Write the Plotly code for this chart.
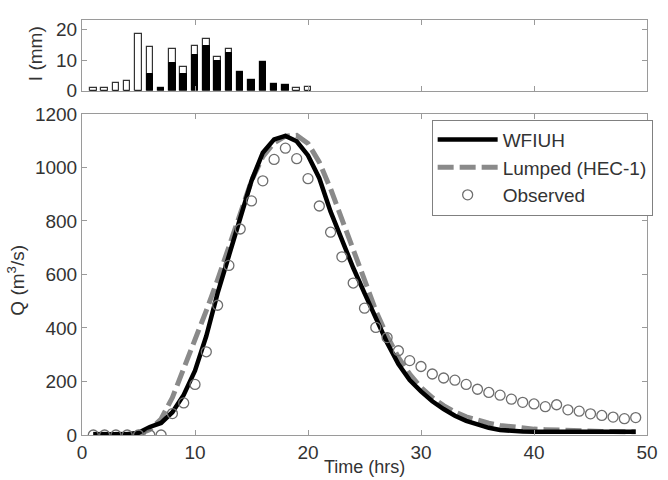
import plotly.graph_objects as go

# ---------------- data ----------------
rain_t = [1, 2, 3, 4, 5, 6, 7, 8, 9, 10, 11, 12, 13, 14, 15, 16, 17, 18, 19, 20]
rain_total = [0.8, 0.8, 2.6, 3.2, 18.6, 14.3, 0.8, 13.8, 7.7, 14.8,
              17.0, 10.9, 13.8, 6.1, 3.5, 9.5, 2.1, 1.7, 0.8, 1.2]
rain_excess = [0, 0, 0, 0, 0, 5.6, 0.8, 9.0, 5.6, 11.7,
               14.8, 9.7, 12.5, 6.1, 3.5, 9.5, 2.1, 1.7, 0, 0]

time_hrs = [1, 2, 3, 4, 5, 6, 7, 8, 9, 10, 11, 12, 13, 14, 15, 16, 17, 18, 19, 20,
            21, 22, 23, 24, 25, 26, 27, 28, 29, 30, 31, 32, 33, 34, 35, 36, 37, 38, 39, 40,
            41, 42, 43, 44, 45, 46, 47, 48, 49]

q_wfiuh = [3, 3, 3, 3, 8, 30, 45, 85, 150, 240, 370, 530, 670, 810, 950, 1055, 1105, 1118, 1098, 1045,
           960, 835, 725, 625, 530, 440, 345, 265, 205, 163, 126, 97, 72, 53, 38, 27, 19, 15, 13, 12,
           12, 12, 12, 12, 12, 12, 12, 12, 12]

q_lumped = [3, 3, 3, 3, 3, 20, 60, 140, 245, 355, 465, 580, 700, 830, 950, 1040, 1092, 1117, 1120, 1090,
            1020, 920, 810, 695, 580, 465, 370, 290, 228, 178, 140, 110, 86, 68, 54, 44, 36, 30, 26, 22,
            20, 18, 16, 15, 14, 13, 13, 12, 12]

q_obs = [0, 0, 0, 0, 0, 0, 0, 80, 120, 189, 311, 485, 634, 770, 875, 950, 1030, 1072, 1033, 958,
         856, 758, 666, 568, 474, 402, 364, 315, 278, 256, 228, 213, 205, 189, 171, 159, 149, 134, 122, 116,
         106, 113, 94, 89, 79, 73, 67, 61, 65]

x_ticks = [0, 10, 20, 30, 40, 50]
q_ticks = [0, 200, 400, 600, 800, 1000, 1200]
i_ticks = [0, 10, 20]

# ---------------- figure ----------------
FONT = dict(family="Liberation Sans, Arial, sans-serif", size=19, color="#333333")
AX = dict(showline=True, linecolor="#9a9a9a", linewidth=1, mirror="ticks",
          ticks="inside", ticklen=5, tickcolor="#9a9a9a", tickwidth=1,
          showgrid=False, zeroline=False, tickfont=FONT)

fig = go.Figure()

# rainfall bars (top panel)
fig.add_trace(go.Bar(x=rain_t, y=rain_total, width=0.58, xaxis="x2", yaxis="y2",
                     marker=dict(color="white", line=dict(color="#333333", width=1.2)),
                     showlegend=False, hoverinfo="skip"))
fig.add_trace(go.Bar(x=rain_t, y=rain_excess, width=0.58, xaxis="x2", yaxis="y2",
                     marker=dict(color="black", line=dict(color="black", width=1)),
                     showlegend=False, hoverinfo="skip"))

# hydrographs (bottom panel)
fig.add_trace(go.Scatter(x=time_hrs, y=q_lumped, mode="lines", name="Lumped (HEC-1)",
                         line=dict(color="#8a8a8a", width=5, dash="16px,6px"), legendrank=2))
fig.add_trace(go.Scatter(x=time_hrs, y=q_wfiuh, mode="lines", name="WFIUH",
                         line=dict(color="black", width=4.5), legendrank=1))
fig.add_trace(go.Scatter(x=time_hrs, y=q_obs, mode="markers", name="Observed",
                         marker=dict(symbol="circle-open", size=10, color="#6e6e6e",
                                     line=dict(width=1.3, color="#6e6e6e")), legendrank=3))

fig.update_layout(
    width=668, height=480,
    margin=dict(l=82, r=10, t=11, b=45),
    paper_bgcolor="white", plot_bgcolor="white",
    barmode="overlay", bargap=0,
    font=FONT,
    xaxis=dict(AX, range=[0, 50], tickvals=x_ticks, domain=[0, 1], anchor="y"),
    yaxis=dict(AX, range=[0, 1200], tickvals=q_ticks, domain=[0, 0.7736], anchor="x"),
    xaxis2=dict(AX, range=[0, 50], tickvals=x_ticks, showticklabels=False, domain=[0, 1], anchor="y2"),
    yaxis2=dict(AX, range=[0, 23.2], tickvals=i_ticks, domain=[0.830, 1], anchor="x2"),
    legend=dict(x=1.01, xanchor="right", y=0.76, yanchor="top",
                bgcolor="white", bordercolor="#808080", borderwidth=1,
                font=FONT, tracegroupgap=0, itemwidth=60),
    showlegend=True,
    annotations=[
        dict(text="Q (m<sup>3</sup>/s)", textangle=-90, xref="paper", yref="paper",
             x=-0.1163, y=0.3726, xanchor="center", yanchor="middle",
             showarrow=False, font=FONT),
        dict(text="I (mm)", textangle=-90, xref="paper", yref="paper",
             x=-0.0833, y=0.92, xanchor="center", yanchor="middle",
             showarrow=False, font=FONT),
        dict(text="Time (hrs)", xref="paper", yref="paper", x=0.5, y=-0.1061,
             xanchor="center", yanchor="bottom", showarrow=False,
             font=dict(FONT, size=18)),
    ],
)

fig.write_html("out.html")
